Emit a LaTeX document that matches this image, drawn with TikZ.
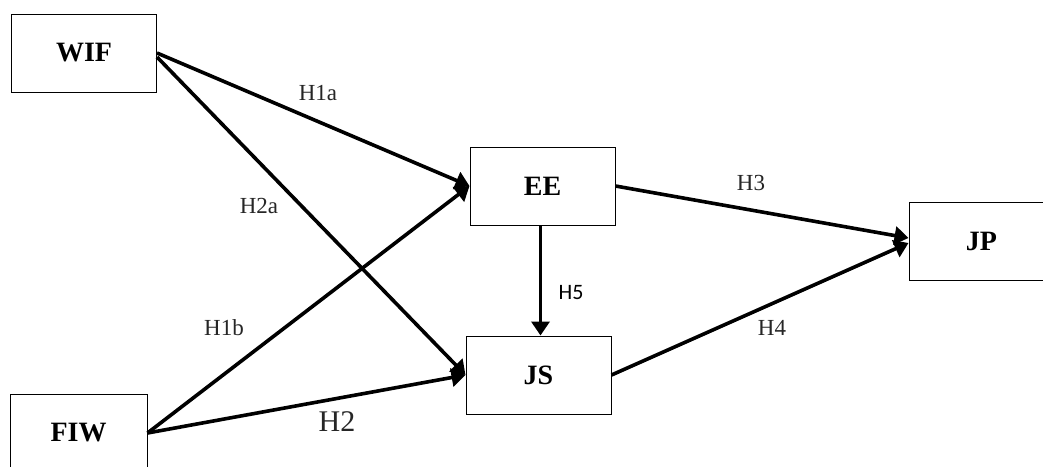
\documentclass[tikz,border=0pt]{standalone}
\usepackage{fontspec}
\setmainfont{Liberation Serif}
\newfontfamily\calibrifont{Carlito}
\usetikzlibrary{arrows.meta}
\begin{document}
\begin{tikzpicture}[x=0.5pt,y=-0.5pt,
  var/.style={draw,line width=0.5pt,minimum width=72.5pt,minimum height=39pt,
    inner sep=0pt,font=\fontsize{14}{16}\selectfont\bfseries},
  hyp/.style={inner sep=0pt,font=\fontsize{11.5}{13}\selectfont,text=black!85},
  path/.style={line width=1.8pt,-{Triangle[length=7pt,width=9pt]}}]
\useasboundingbox (0,0) rectangle (1043,466);
\clip (0,0) rectangle (1043,466);
\node[var] (WIF) at (84,53) {WIF};
\node[var,minimum width=68.5pt] (FIW) at (78.5,433) {FIW};
\node[var] (EE) at (542.5,186) {EE};
\node[var] (JS) at (538.5,375) {JS};
\node[var] (JP) at (981.5,241) {JP};
\draw[path] (WIF.east) -- (EE.west);
\draw[path] ([yshift=-2pt]WIF.east) -- (JS.west);
\draw[path] (FIW.east) -- (EE.west);
\draw[path] (FIW.east) -- (JS.west);
\draw[path] ([xshift=-1pt]EE.south) -- ([xshift=-1pt]EE.south |- JS.north);
\draw[path] (EE.east) -- ([yshift=1.5pt]JP.west);
\draw[path] (JS.east) -- ([yshift=-1pt]JP.west);
\node[hyp] (h1a) at (318,93) {H1a};
\node[hyp] (h2a) at (259,206) {H2a};
\node[hyp] (h1b) at (224,328) {H1b};
\node[hyp,font=\fontsize{15}{17}\selectfont] (h2) at (337,422) {H2};
\node[hyp,font=\calibrifont\fontsize{11}{13}\selectfont,text=black] (h5) at (571,293) {H5};
\node[hyp] (h3) at (751,183) {H3};
\node[hyp] (h4) at (772,328) {H4};
\end{tikzpicture}
\end{document}
